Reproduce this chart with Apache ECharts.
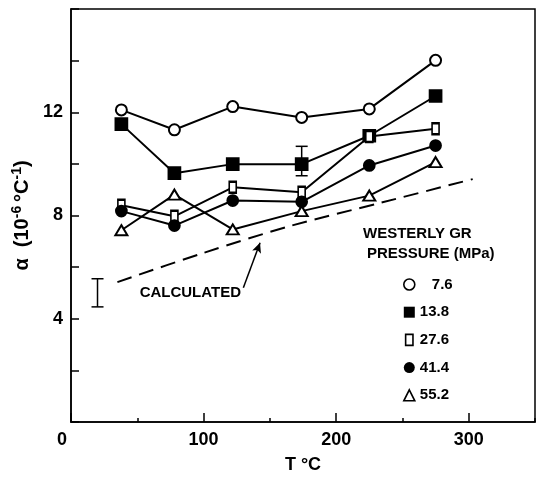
<!DOCTYPE html>
<html><head><meta charset="utf-8">
<script src="https://cdn.jsdelivr.net/npm/echarts@6/dist/echarts.min.js"></script>
<style>html,body{margin:0;padding:0;background:#fff}#chart{width:541px;height:479px}</style>
</head><body><div id="chart"></div>
<script>
// Thermal expansion coefficient of Westerly granite vs. temperature
const temperatures = [38, 78, 122, 174, 225, 275];
const pressures = ['7.6', '13.8', '27.6', '41.4', '55.2'];
const alpha76  = [12.09, 11.32, 12.22, 11.80, 12.13, 14.01];
const alpha138 = [11.54, 9.64, 9.99, 9.99, 11.09, 12.63];
const alpha276 = [8.40, 7.97, 9.09, 8.90, 11.06, 11.36];
const alpha414 = [8.17, 7.61, 8.58, 8.53, 9.94, 10.71];
const alpha552 = [7.43, 8.81, 7.46, 8.17, 8.77, 10.07];
const calcT     = [35, 100, 165, 235, 303];
const calcAlpha = [5.42, 6.55, 7.59, 8.51, 9.41];
// [T, low, high]
const errorBars = [[20, 4.46, 5.55], [174, 9.54, 10.68]];
const arrowFrom = [130, 5.2];
const arrowTo = [142.6, 6.94];
const calcLabelAt = [90, 5.0];
const xTickLabels = [0, 100, 200, 300];
const yTickLabels = [4, 8, 12];

const FONT = "'Liberation Sans', Arial, sans-serif";
const seriesValues = [alpha76, alpha138, alpha276, alpha414, alpha552];
const markers = [
  { symbol: 'emptyCircle', size: 11, icon: 'circle', hollow: true },
  { symbol: 'rect', size: [12, 12], icon: 'rect', hollow: false },
  { symbol: 'emptyRect', size: [7, 11], icon: 'path://M0,0H6V9H0Z', hollow: true },
  { symbol: 'circle', size: 11, icon: 'circle', hollow: false },
  { symbol: 'emptyTriangle', size: [12, 10], icon: 'triangle', hollow: true }
];

const zip = (xs, ys) => xs.map((x, i) => [x, ys[i]]);

const dataSeries = pressures.map((p, i) => ({
  name: p,
  type: 'line',
  data: zip(temperatures, seriesValues[i]),
  symbol: markers[i].symbol,
  symbolSize: markers[i].size,
  showSymbol: true,
  lineStyle: { color: '#000', width: 2 },
  itemStyle: { color: '#000', borderColor: '#000', borderWidth: 1.7 },
  z: 3
}));

const chart = echarts.init(document.getElementById('chart'), null, { renderer: 'canvas' });
chart.setOption({
  animation: false,
  backgroundColor: '#fff',
  textStyle: { fontFamily: FONT },
  grid: { left: 71, top: 9, right: 6, bottom: 52, show: true, borderColor: '#000', borderWidth: 1.5, backgroundColor: 'transparent' },
  xAxis: [{
    type: 'value', min: 0, max: 350, interval: 50,
    axisLine: { lineStyle: { color: '#000', width: 1.5 } },
    axisTick: { inside: true, length: 4, lineStyle: { color: '#000', width: 1.5 } },
    axisLabel: { show: false },
    splitLine: { show: false },
    name: 'T °C', nameLocation: 'middle', nameGap: 34,
    nameTextStyle: { fontSize: 18, fontWeight: 'bold', color: '#000', fontFamily: FONT }
  }, {
    type: 'value', min: 0, max: 350, interval: 100, position: 'bottom', offset: 0,
    axisLine: { show: false },
    axisTick: { inside: true, length: 9, lineStyle: { color: '#000', width: 1.5 } },
    axisLabel: {
      margin: 9, fontSize: 18, fontWeight: 'bold', color: '#000', fontFamily: FONT,
      showMaxLabel: false,
      formatter: v => xTickLabels.includes(v) ? (v === 0 ? '{z|0}' : String(v)) : '',
      rich: { z: { fontSize: 18, fontWeight: 'bold', color: '#000', fontFamily: FONT, padding: [0, 18, 0, 0] } }
    },
    splitLine: { show: false }
  }],
  yAxis: {
    type: 'value', min: 0, max: 16, interval: 2,
    axisLine: { lineStyle: { color: '#000', width: 1.5 } },
    axisTick: { inside: true, length: 8, lineStyle: { color: '#000', width: 1.5 } },
    axisLabel: {
      margin: 8, fontSize: 18, fontWeight: 'bold', color: '#000', fontFamily: FONT,
      formatter: v => yTickLabels.includes(v) ? String(v) : ''
    },
    splitLine: { show: false },
    name: '{a|α  (10}{s|-6 }{a|°C}{s|-1}{a|)}',
    nameLocation: 'middle', nameGap: 35, nameRotate: 90,
    nameTextStyle: {
      color: '#000',
      rich: {
        a: { fontSize: 20, fontWeight: 'bold', color: '#000', fontFamily: FONT },
        s: { fontSize: 14, fontWeight: 'bold', color: '#000', fontFamily: FONT, verticalAlign: 'top', padding: [0, 0, 9, 0] }
      }
    }
  },
  legend: {
    orient: 'vertical', left: 398, top: 272,
    itemWidth: 11, itemHeight: 11, itemGap: 12.7,
    selectedMode: false,
    data: pressures.map((p, i) => ({
      name: p,
      icon: markers[i].icon,
      itemStyle: markers[i].hollow
        ? { color: '#fff', borderColor: '#000', borderWidth: 1.6 }
        : { color: '#000', borderColor: '#000', borderWidth: 0 }
    })),
    formatter: n => n.length < 4 ? '{pad|' + n + '}' : n,
    textStyle: {
      fontSize: 15, fontWeight: 'bold', color: '#000', fontFamily: FONT,
      rich: { pad: { fontSize: 15, fontWeight: 'bold', color: '#000', fontFamily: FONT, padding: [0, 0, 0, 12] } }
    }
  },
  graphic: [
    { type: 'text', left: 363, top: 226, style: { text: 'WESTERLY GR', font: "bold 15px 'Liberation Sans', Arial, sans-serif", fill: '#000' } },
    { type: 'text', left: 367, top: 246, style: { text: 'PRESSURE (MPa)', font: "bold 15px 'Liberation Sans', Arial, sans-serif", fill: '#000' } }
  ],
  series: [
    ...dataSeries,
    {
      name: 'calculated',
      type: 'line',
      data: zip(calcT, calcAlpha),
      smooth: 0.3,
      symbol: 'none',
      lineStyle: { color: '#000', width: 2, type: [15, 8] },
      z: 2,
      markLine: {
        silent: true,
        symbol: ['none', 'arrow'],
        symbolSize: [7, 10],
        label: { show: false },
        lineStyle: { color: '#000', width: 1.5, type: 'solid' },
        data: [[{ coord: arrowFrom }, { coord: arrowTo }]]
      },
      markPoint: {
        silent: true,
        symbol: 'circle', symbolSize: 0,
        data: [{ coord: calcLabelAt }],
        label: { show: true, position: 'inside', formatter: 'CALCULATED', fontSize: 15, fontWeight: 'bold', color: '#000', fontFamily: FONT }
      }
    },
    {
      name: 'error',
      type: 'custom',
      data: errorBars,
      z: 4,
      renderItem: (params, api) => {
        const x = api.value(0);
        const lo = api.coord([x, api.value(1)]);
        const hi = api.coord([x, api.value(2)]);
        const w = 6;
        const st = { stroke: '#000', lineWidth: 1.5 };
        return {
          type: 'group',
          children: [
            { type: 'line', shape: { x1: lo[0], y1: lo[1], x2: hi[0], y2: hi[1] }, style: st },
            { type: 'line', shape: { x1: lo[0] - w, y1: lo[1], x2: lo[0] + w, y2: lo[1] }, style: st },
            { type: 'line', shape: { x1: hi[0] - w, y1: hi[1], x2: hi[0] + w, y2: hi[1] }, style: st }
          ]
        };
      }
    }
  ]
});
</script>
</body></html>
